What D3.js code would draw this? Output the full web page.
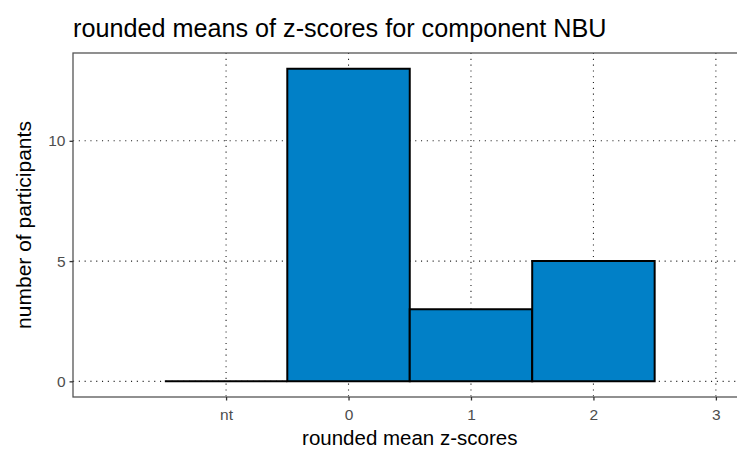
<!DOCTYPE html>
<html>
<head>
<meta charset="utf-8">
<script src="https://cdn.jsdelivr.net/npm/d3@7"></script>
<style>
  body { margin: 0; background: #fff; }
  svg { display: block; font-family: "Liberation Sans", Arial, sans-serif; }
</style>
</head>
<body>
<svg id="chart" width="737" height="450"></svg>
<script>
// Data
const categories = ["nt", "0", "1", "2"];
const positions = [-1, 0, 1, 2];
const counts = [0, 13, 3, 5];
const xTickValues = [-1, 0, 1, 2, 3];
const xTickLabels = ["nt", "0", "1", "2", "3"];
const yTickValues = [0, 5, 10];

const title = "rounded means of z-scores for component NBU";
const xTitle = "rounded mean z-scores";
const yTitle = "number of participants";

const svg = d3.select("#chart");
const panel = { left: 73, right: 746.5, top: 53, bottom: 397 };

const x = d3.scaleLinear().domain([-2.25, 3.25]).range([panel.left, panel.right]);
const y = d3.scaleLinear().domain([-0.65, 13.65]).range([panel.bottom, panel.top]);

svg.append("rect")
  .attr("x", panel.left).attr("y", panel.top)
  .attr("width", panel.right - panel.left).attr("height", panel.bottom - panel.top)
  .attr("fill", "#fff");

svg.append("clipPath").attr("id", "pclip").append("rect")
  .attr("x", panel.left).attr("y", panel.top)
  .attr("width", panel.right - panel.left).attr("height", panel.bottom - panel.top);

const g = svg.append("g").attr("clip-path", "url(#pclip)");

// gridlines
g.selectAll(".vgrid").data(xTickValues).enter().append("line")
  .attr("x1", d => x(d)).attr("x2", d => x(d))
  .attr("y1", panel.top).attr("y2", panel.bottom)
  .attr("stroke", "#222").attr("stroke-width", 1.1)
  .attr("stroke-dasharray", "1.1,4.7");
g.selectAll(".hgrid").data(yTickValues).enter().append("line")
  .attr("x1", panel.left).attr("x2", panel.right)
  .attr("y1", d => y(d)).attr("y2", d => y(d))
  .attr("stroke", "#222").attr("stroke-width", 1.1)
  .attr("stroke-dasharray", "1.1,4.7");

// bars (as paths so zero-height bars still show their outline)
g.selectAll(".bar").data(positions).enter().append("path")
  .attr("d", (d, i) => {
    const x0 = x(d - 0.5), x1 = x(d + 0.5), y0 = y(0), y1 = y(counts[i]);
    return `M${x0},${y0}L${x0},${y1}L${x1},${y1}L${x1},${y0}Z`;
  })
  .attr("fill", "#0180C7")
  .attr("stroke", "#000")
  .attr("stroke-width", 2)
  .attr("stroke-linejoin", "miter");

// panel border
svg.append("rect")
  .attr("x", panel.left).attr("y", panel.top)
  .attr("width", panel.right - panel.left).attr("height", panel.bottom - panel.top)
  .attr("fill", "none").attr("stroke", "#555").attr("stroke-width", 1.3);

// axes
const xAxis = d3.axisBottom(x).tickValues(xTickValues)
  .tickFormat((d, i) => xTickLabels[i]).tickSize(3.5).tickPadding(8);
const xa = svg.append("g").attr("transform", `translate(0,${panel.bottom})`).call(xAxis);
xa.select(".domain").remove();
xa.selectAll("line").attr("stroke", "#333").attr("stroke-width", 1.3);
xa.selectAll("text").attr("fill", "#4D4D4D").style("font-size", "15.5px")
  .style("font-family", "'Liberation Sans', Arial, sans-serif");

const yAxis = d3.axisLeft(y).tickValues(yTickValues).tickSize(3.5).tickPadding(4);
const ya = svg.append("g").attr("transform", `translate(${panel.left},0)`).call(yAxis);
ya.select(".domain").remove();
ya.selectAll("line").attr("stroke", "#333").attr("stroke-width", 1.3);
ya.selectAll("text").attr("fill", "#4D4D4D").style("font-size", "15.5px")
  .style("font-family", "'Liberation Sans', Arial, sans-serif");

// titles
svg.append("text").attr("x", panel.left).attr("y", 37)
  .attr("font-size", 25.2).attr("fill", "#000").text(title);
svg.append("text").attr("x", (panel.left + panel.right) / 2).attr("y", 445)
  .attr("text-anchor", "middle").attr("font-size", 20.5).attr("fill", "#000").text(xTitle);
svg.append("text")
  .attr("transform", `translate(31,${(panel.top + panel.bottom) / 2}) rotate(-90)`)
  .attr("text-anchor", "middle").attr("font-size", 21).attr("fill", "#000").text(yTitle);
</script>
</body>
</html>
